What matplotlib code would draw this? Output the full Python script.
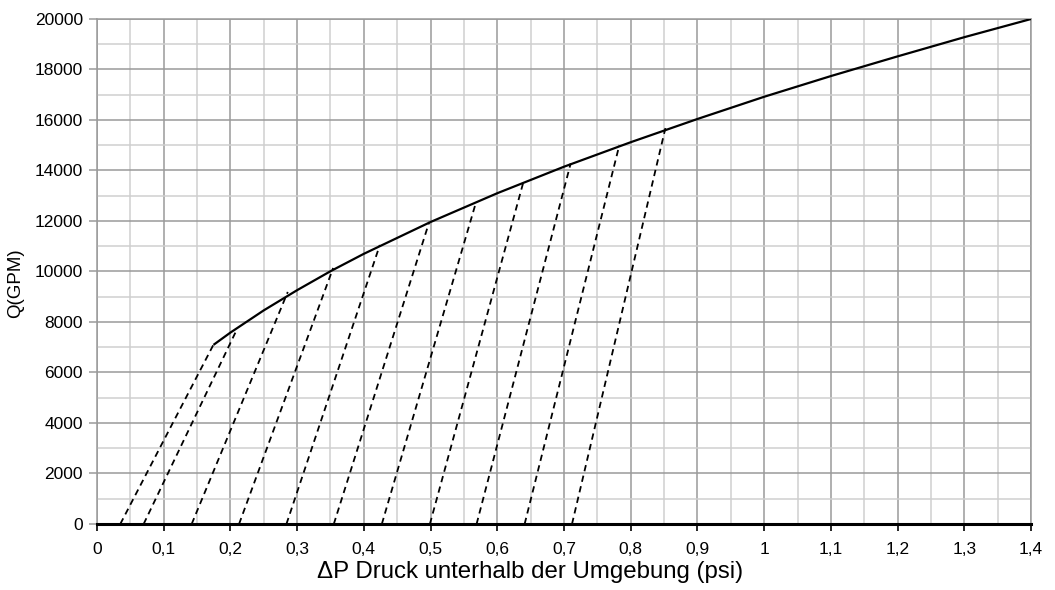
import numpy as np
import matplotlib.pyplot as plt
from matplotlib.ticker import MultipleLocator, FixedLocator
plt.rcParams['font.family'] = ['Liberation Sans', 'DejaVu Sans']

# Hauptkurve
dp_curve = [0.176, 0.2, 0.25, 0.3, 0.35, 0.4, 0.5, 0.6, 0.7, 0.8, 0.9, 1.0, 1.1, 1.2, 1.3, 1.4]
q_curve = [7120, 7580, 8460, 9260, 10010, 10700, 11960, 13100, 14150, 15120, 16040, 16920, 17740, 18520, 19280, 20000]

# gestrichelte Linien: Start bei Q=0, Ende auf der Kurve
dash_x0 = [0.035, 0.070, 0.142, 0.213, 0.284, 0.355, 0.427, 0.499, 0.569, 0.641, 0.712]
dash_x1 = [0.175, 0.208, 0.286, 0.354, 0.424, 0.498, 0.567, 0.639, 0.710, 0.783, 0.852]
dash_y1 = [7120, 7610, 9190, 10140, 11050, 11960, 12640, 13530, 14280, 15010, 15680]

fig = plt.figure(figsize=(10.55, 5.9), dpi=100)
ax = fig.add_axes([0.0919, 0.1119, 0.8854, 0.8559])

ax.plot(dp_curve, q_curve, color='black', linewidth=1.6, zorder=3)
for x0, x1, y1 in zip(dash_x0, dash_x1, dash_y1):
    ax.plot([x0, x1], [0, y1], color='black', linewidth=1.3, linestyle=(0, (3.5, 2.5)), zorder=3)

ax.set_xlim(0, 1.4)
ax.set_ylim(0, 20000)
ax.xaxis.set_major_locator(MultipleLocator(0.1))
ax.xaxis.set_minor_locator(MultipleLocator(0.05))
ax.yaxis.set_major_locator(MultipleLocator(2000))
ax.yaxis.set_minor_locator(MultipleLocator(1000))

xt = np.round(np.arange(0, 1.41, 0.1), 1)
ax.set_xticks(xt)
ax.set_xticklabels([('%g' % v).replace('.', ',') for v in xt])
ax.set_yticklabels(['%d' % v for v in ax.get_yticks()])

ax.grid(which='major', color='#9a9a9a', linewidth=1.1)
ax.grid(which='minor', color='#cfcfcf', linewidth=1.1)
ax.set_axisbelow(True)

for s in ['top', 'right', 'left']:
    ax.spines[s].set_color('#9a9a9a')
    ax.spines[s].set_linewidth(1.1)
ax.spines['bottom'].set_color('black')
ax.spines['bottom'].set_linewidth(2.2)
ax.spines['bottom'].set_zorder(4)

ax.tick_params(axis='x', which='major', length=5, width=1.2, color='black', labelsize=12.5, pad=8)
ax.tick_params(axis='y', which='major', length=6, width=1.1, color='#9a9a9a', labelsize=12.5, pad=4)
ax.tick_params(which='minor', length=0)

ax.set_xlabel('ΔP Druck unterhalb der Umgebung (psi)', fontsize=17.3, labelpad=3)
ax.xaxis.label.set_x(0.4636)
ax.set_ylabel('Q(GPM)', fontsize=13.5, labelpad=8)
ax.yaxis.label.set_y(0.477)

fig.savefig('out.png', dpi=100)
